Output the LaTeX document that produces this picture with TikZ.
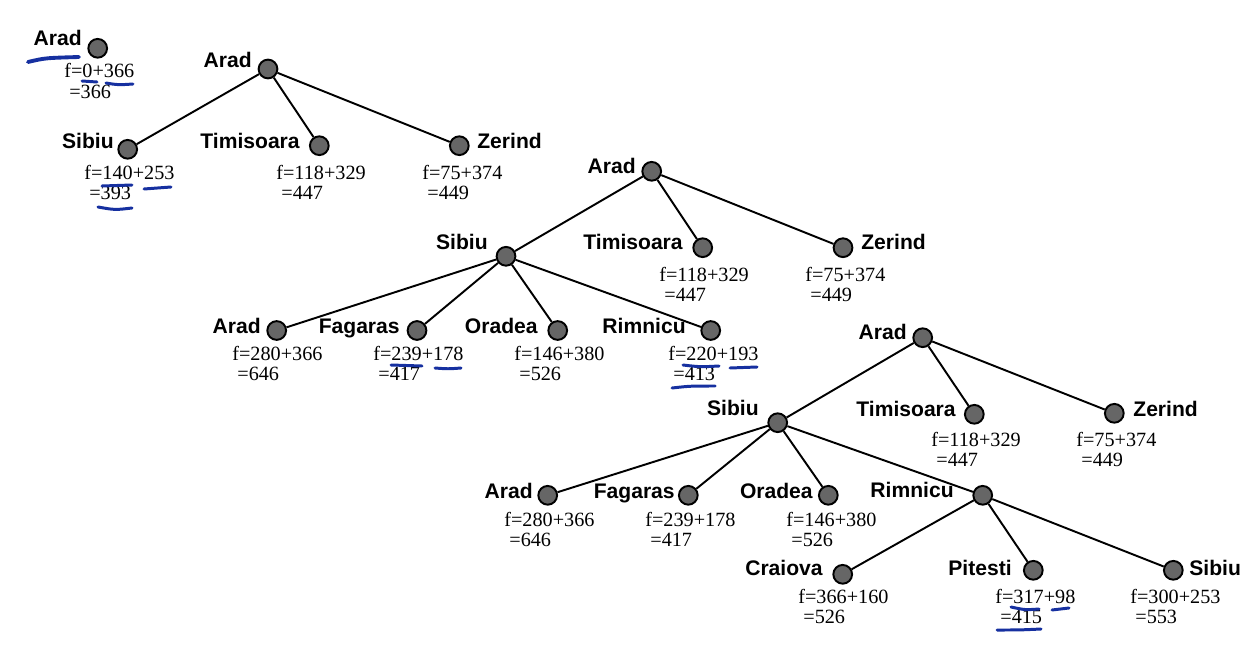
\documentclass[tikz,border=0pt]{standalone}
\usepackage{fontspec}
\setmainfont{Liberation Serif}
\setsansfont{Liberation Sans}
\definecolor{nodegray}{RGB}{102,102,102}
\definecolor{penblue}{RGB}{22,48,160}
\tikzset{
  city/.style={circle, draw=black, line width=1.1pt, fill=nodegray, minimum size=0.375cm, inner sep=0pt},
  lbl/.style={font=\fontsize{12}{14}\selectfont\sffamily\bfseries, inner sep=0pt},
  ftxt/.style={font=\fontsize{11.5}{13}\selectfont, inner sep=0pt, anchor=base west},
  edge/.style={line width=1.1pt},
  pen/.style={penblue, line width=1.7pt, line cap=round},
}
\newcommand\fval[5]{%
  \node[ftxt] (#1-1) at ({#2},{#3}) {#4};
  \node[ftxt] (#1-2) at ({#2+5},{#3+20}) {#5};
}
\begin{document}
\begin{tikzpicture}[x=0.02cm, y=-0.02cm]
\useasboundingbox (0,0) rectangle (1260,652);

% ---------- Tree 1
\node[city] (t1a) at (97.7,48.3) {};
\node[lbl, anchor=base east] (t1a-l) at (82,46) {Arad};
\fval{t1a-f}{64}{78}{f=0+366}{=366}

% ---------- Tree 2
\node[city] (t2a) at (268,69) {};
\node[lbl, anchor=base east] (t2a-l) at (252,68) {Arad};
\node[city] (t2s) at (127.7,149.3) {};
\node[lbl, anchor=base east] (t2s-l) at (114,148) {Sibiu};
\fval{t2s-f}{84}{179}{f=140+253}{=393}
\node[city] (t2t) at (319.3,145.7) {};
\node[lbl, anchor=base east] (t2t-l) at (300,148) {Timisoara};
\fval{t2t-f}{276}{179}{f=118+329}{=447}
\node[city] (t2z) at (459.3,145.7) {};
\node[lbl, anchor=base west] (t2z-l) at (477,148) {Zerind};
\fval{t2z-f}{422}{179}{f=75+374}{=449}
\draw[edge] (t2a) -- (t2s);
\draw[edge] (t2a) -- (t2t);
\draw[edge] (t2a) -- (t2z);

% ---------- Tree 3
\node[city] (t3a) at (651.7,171.3) {};
\node[lbl, anchor=base east] (t3a-l) at (636,173) {Arad};
\node[city] (t3s) at (506,256.3) {};
\node[lbl, anchor=base east] (t3s-l) at (488,249) {Sibiu};
\node[city] (t3t) at (702.7,247.7) {};
\node[lbl, anchor=base east] (t3t-l) at (683,249) {Timisoara};
\fval{t3t-f}{659}{281}{f=118+329}{=447}
\node[city] (t3z) at (843,247.7) {};
\node[lbl, anchor=base west] (t3z-l) at (861,249) {Zerind};
\fval{t3z-f}{805}{281}{f=75+374}{=449}
\node[city] (t3aa) at (276.7,330.5) {};
\node[lbl, anchor=base east] (t3aa-l) at (261,333) {Arad};
\fval{t3aa-f}{232}{360}{f=280+366}{=646}
\node[city] (t3f) at (417,330.5) {};
\node[lbl, anchor=base east] (t3f-l) at (400,333) {Fagaras};
\fval{t3f-f}{373}{360}{f=239+178}{=417}
\node[city] (t3o) at (557.7,330.5) {};
\node[lbl, anchor=base east] (t3o-l) at (538,333) {Oradea};
\fval{t3o-f}{514}{360}{f=146+380}{=526}
\node[city] (t3r) at (710.7,330.5) {};
\node[lbl, anchor=base east] (t3r-l) at (686,333) {Rimnicu};
\fval{t3r-f}{668}{360}{f=220+193}{=413}
\draw[edge] (t3a) -- (t3s);
\draw[edge] (t3a) -- (t3t);
\draw[edge] (t3a) -- (t3z);
\draw[edge] (t3s) -- (t3aa);
\draw[edge] (t3s) -- (t3f);
\draw[edge] (t3s) -- (t3o);
\draw[edge] (t3s) -- (t3r);

% ---------- Tree 4
\node[city] (t4a) at (922.7,337.7) {};
\node[lbl, anchor=base east] (t4a-l) at (907,339) {Arad};
\node[city] (t4s) at (777.7,422.7) {};
\node[lbl, anchor=base east] (t4s-l) at (759,415) {Sibiu};
\node[city] (t4t) at (974.3,414.3) {};
\node[lbl, anchor=base east] (t4t-l) at (956,416) {Timisoara};
\fval{t4t-f}{931}{446}{f=118+329}{=447}
\node[city] (t4z) at (1114.3,413.3) {};
\node[lbl, anchor=base west] (t4z-l) at (1133,416) {Zerind};
\fval{t4z-f}{1076}{446}{f=75+374}{=449}
\node[city] (t4aa) at (547.7,495.3) {};
\node[lbl, anchor=base east] (t4aa-l) at (533,498) {Arad};
\fval{t4aa-f}{504}{526}{f=280+366}{=646}
\node[city] (t4f) at (688.3,495.3) {};
\node[lbl, anchor=base east] (t4f-l) at (675,498) {Fagaras};
\fval{t4f-f}{645}{526}{f=239+178}{=417}
\node[city] (t4o) at (828.3,495.3) {};
\node[lbl, anchor=base east] (t4o-l) at (813,498) {Oradea};
\fval{t4o-f}{786}{526}{f=146+380}{=526}
\node[city] (t4r) at (982.7,495.3) {};
\node[lbl, anchor=base east] (t4r-l) at (954,497) {Rimnicu};
\node[city] (t4c) at (842.7,574.3) {};
\node[lbl, anchor=base east] (t4c-l) at (823,575) {Craiova};
\fval{t4c-f}{798}{603}{f=366+160}{=526}
\node[city] (t4p) at (1033.3,570.3) {};
\node[lbl, anchor=base east] (t4p-l) at (1012,575) {Pitesti};
\fval{t4p-f}{995}{603}{f=317+98}{=415}
\node[city] (t4sb) at (1173.3,570.3) {};
\node[lbl, anchor=base west] (t4sb-l) at (1189,575) {Sibiu};
\fval{t4sb-f}{1130}{603}{f=300+253}{=553}
\draw[edge] (t4a) -- (t4s);
\draw[edge] (t4a) -- (t4t);
\draw[edge] (t4a) -- (t4z);
\draw[edge] (t4s) -- (t4aa);
\draw[edge] (t4s) -- (t4f);
\draw[edge] (t4s) -- (t4o);
\draw[edge] (t4s) -- (t4r);
\draw[edge] (t4r) -- (t4c);
\draw[edge] (t4r) -- (t4p);
\draw[edge] (t4r) -- (t4sb);

% ---------- hand-drawn blue underlines
\draw[pen, line width=2.2pt] (28,62) .. controls (45,58) .. (79,57);
\draw[pen] (82,81) -- (97,82);
\draw[pen] (106,83) .. controls (118,85) .. (133,84);
\draw[pen] (102,186) -- (132,185);
\draw[pen] (144,189) -- (171,187);
\draw[pen] (98,207) .. controls (115,210) .. (132,208);
\draw[pen] (391,365) -- (422,366);
\draw[pen] (435,368) .. controls (448,369) .. (461,368);
\draw[pen] (683,365) .. controls (700,367) .. (719,366);
\draw[pen] (730,368) .. controls (744,368) .. (757,367);
\draw[pen] (672,388) .. controls (690,386) .. (715,386);
\draw[pen] (1011,607) .. controls (1025,610) .. (1039,609);
\draw[pen] (1052,610) -- (1069,608);
\draw[pen] (997,630) .. controls (1020,630) .. (1041,629);
\end{tikzpicture}
\end{document}
